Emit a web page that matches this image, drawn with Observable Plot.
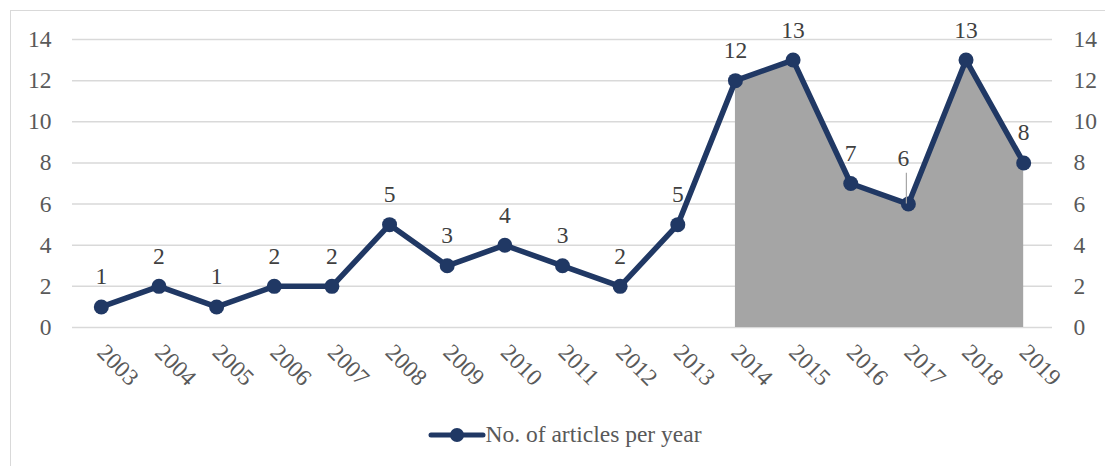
<!DOCTYPE html>
<html><head><meta charset="utf-8">
<script src="https://cdn.jsdelivr.net/npm/d3@7"></script>
<script src="https://cdn.jsdelivr.net/npm/@observablehq/plot@0.6"></script>
<style>
html,body{margin:0;padding:0;background:#fff;width:1105px;height:466px;overflow:hidden;font-family:"Liberation Serif","Times New Roman",serif;}
#frame{position:absolute;left:10px;top:10px;width:1120px;height:480px;border:1.5px solid #d9d9d9;box-sizing:border-box;}
#chart{position:absolute;left:0;top:0;}
#legend{position:absolute;left:12px;top:421px;width:1105px;display:flex;justify-content:center;align-items:center;font-size:23.5px;color:#595959;}
</style></head>
<body>
<div id="frame"></div>
<div id="chart"></div>
<div id="legend"></div>
<script>
const years = ["2003","2004","2005","2006","2007","2008","2009","2010","2011","2012","2013","2014","2015","2016","2017","2018","2019"];
const articles = [1,2,1,2,2,5,3,4,3,2,5,12,13,7,6,13,8];
const yTicks = [0,2,4,6,8,10,12,14];
const shadedFrom = "2014";
const shiftedLabelYear = "2017";
const seriesName = "No. of articles per year";

const lineColor = "#203864";
const data = years.map((y,i)=>({year:y, value:articles[i]}));
const shaded = data.filter(d => d.year >= shadedFrom);
const normalLabels = data.filter(d => d.year !== shiftedLabelYear);
const shiftedLabels = data.filter(d => d.year === shiftedLabelYear);

const chart = Plot.plot({
  width:1105, height:400,
  marginLeft:72, marginRight:53, marginTop:39, marginBottom:73,
  style:{fontSize:"23.5px", fontFamily:"'Liberation Serif','Times New Roman',serif", color:"#595959", background:"transparent", overflow:"visible"},
  x:{type:"point", domain:years, padding:0.5, round:false},
  y:{domain:[0,14]},
  marks:[
    Plot.gridY(yTicks, {stroke:"#d9d9d9", strokeOpacity:1, strokeWidth:1.5}),
    Plot.areaY(shaded, {x:"year", y:"value", fill:"#a5a5a5"}),
    Plot.line(data, {x:"year", y:"value", stroke:lineColor, strokeWidth:5.5, strokeLinejoin:"round"}),
    Plot.dot(data, {x:"year", y:"value", r:7.5, fill:lineColor}),
    Plot.ruleX(shiftedLabels, {x:"year", y1:"value", y2:d=>d.value+1.5, stroke:"#a6a6a6", strokeWidth:1.2, dx:-2}),
    Plot.text(normalLabels, {x:"year", y:"value", text:d=>String(d.value), dy:-30, fontSize:23.5, fill:"#404040"}),
    Plot.text(shiftedLabels, {x:"year", y:"value", text:d=>String(d.value), dy:-46, dx:-5, fontSize:23.5, fill:"#404040"}),
    Plot.axisY({anchor:"left", ticks:yTicks, tickSize:0, tickPadding:21, label:null}),
    Plot.axisY({anchor:"right", ticks:yTicks, tickSize:0, tickPadding:21, label:null}),
    Plot.axisX({anchor:"bottom", tickRotate:45, tickSize:0, tickPadding:21, label:null})
  ]
});
document.getElementById("chart").appendChild(chart);

const lg = document.getElementById("legend");
const ns = "http://www.w3.org/2000/svg";
const sw = document.createElementNS(ns,"svg");
sw.setAttribute("width","58"); sw.setAttribute("height","20");
const ln = document.createElementNS(ns,"line");
ln.setAttribute("x1","3"); ln.setAttribute("x2","55"); ln.setAttribute("y1","10"); ln.setAttribute("y2","10");
ln.setAttribute("stroke",lineColor); ln.setAttribute("stroke-width","5"); ln.setAttribute("stroke-linecap","round");
const ci = document.createElementNS(ns,"circle");
ci.setAttribute("cx","29"); ci.setAttribute("cy","10"); ci.setAttribute("r","7"); ci.setAttribute("fill",lineColor);
sw.appendChild(ln); sw.appendChild(ci);
const tx = document.createElement("span"); tx.textContent = seriesName;
lg.appendChild(sw); lg.appendChild(tx);
</script>
</body></html>
